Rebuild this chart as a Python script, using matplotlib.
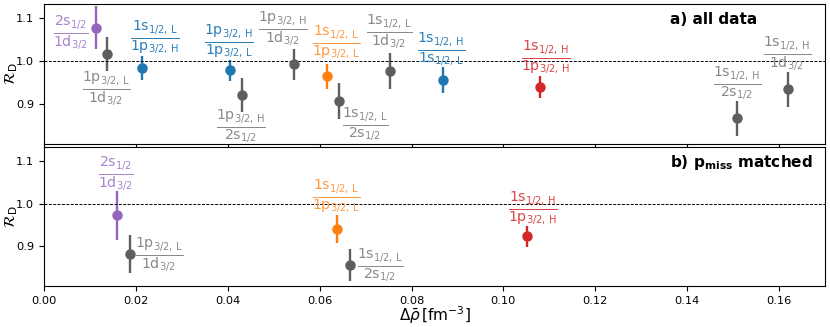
import matplotlib
matplotlib.use("Agg")
import matplotlib.pyplot as plt

plt.rcParams['mathtext.fontset'] = 'dejavusans'

# ratio labels (numerator, denominator)
ratios_a = [("2s_{1/2}", "1d_{3/2}"), ("1p_{3/2,L}", "1d_{3/2}"), ("1s_{1/2,L}", "1p_{3/2,H}"),
            ("1p_{3/2,H}", "1p_{3/2,L}"), ("1p_{3/2,H}", "2s_{1/2}"), ("1p_{3/2,H}", "1d_{3/2}"),
            ("1s_{1/2,L}", "1p_{3/2,L}"), ("1s_{1/2,L}", "2s_{1/2}"), ("1s_{1/2,L}", "1d_{3/2}"),
            ("1s_{1/2,H}", "1s_{1/2,L}"), ("1s_{1/2,H}", "1p_{3/2,H}"), ("1s_{1/2,H}", "2s_{1/2}"),
            ("1s_{1/2,H}", "1d_{3/2}")]
drho_a = [0.0113, 0.0138, 0.0213, 0.0405, 0.0431, 0.0544, 0.0617, 0.0643, 0.0754, 0.0869, 0.1079, 0.1509, 0.1620]
rd_a = [1.078, 1.016, 0.984, 0.978, 0.921, 0.992, 0.964, 0.907, 0.977, 0.956, 0.940, 0.867, 0.934]
err_a = [0.050, 0.040, 0.028, 0.025, 0.039, 0.037, 0.030, 0.042, 0.042, 0.030, 0.025, 0.041, 0.040]
kind_a = ['purple', 'gray', 'blue', 'blue', 'gray', 'gray', 'orange', 'gray', 'gray', 'blue', 'red', 'gray', 'gray']

ratios_b = [("2s_{1/2}", "1d_{3/2}"), ("1p_{3/2,L}", "1d_{3/2}"), ("1s_{1/2,L}", "1p_{3/2,L}"),
            ("1s_{1/2,L}", "2s_{1/2}"), ("1s_{1/2,H}", "1p_{3/2,H}")]
drho_b = [0.0159, 0.0187, 0.0638, 0.0666, 0.1052]
rd_b = [0.973, 0.882, 0.941, 0.856, 0.924]
err_b = [0.058, 0.044, 0.033, 0.037, 0.025]
kind_b = ['purple', 'gray', 'orange', 'gray', 'red']

# label anchor positions (data coords)
lab_a = [(0.0059, 1.064), (0.0135, 0.934), (0.0241, 1.054), (0.0402, 1.045), (0.0429, 0.847),
         (0.0520, 1.074), (0.0636, 1.043), (0.0699, 0.851), (0.0751, 1.067), (0.0865, 1.027),
         (0.1092, 1.008), (0.1508, 0.948), (0.1618, 1.016)]
lab_b = [(0.0156, 1.070), (0.0250, 0.880), (0.0636, 1.018), (0.0732, 0.856), (0.1064, 0.989)]

marker_col = {'purple': '#9467bd', 'gray': '#5e5e5e', 'blue': '#1f77b4',
              'orange': '#ff7f0e', 'red': '#d62728'}
text_col = {'purple': '#a884cc', 'gray': '#8a8a8a', 'blue': '#2a7fba',
            'orange': '#ff9a40', 'red': '#dc4445'}


def tex(s):
    # "1p_{3/2,L}" -> mathrm with a small space after the comma
    base, sub = s.split("_")
    sub = sub.strip("{}").replace(",", r",\,")
    return r"\mathrm{%s}_{\mathrm{%s}}" % (base, sub)


def draw(ax, xs, ys, es, kinds, ratios, labs, title):
    for x, y, e, k in zip(xs, ys, es, kinds):
        ax.errorbar(x, y, yerr=e, fmt='o', color=marker_col[k], ms=6.5, elinewidth=1.7, capsize=0)
    for (num, den), (lx, ly), k in zip(ratios, labs, kinds):
        ax.text(lx, ly, r"$\frac{%s}{%s}$" % (tex(num), tex(den)), ha='center', va='center',
                fontsize=14.5, color=text_col[k])
    ax.axhline(1.0, color='black', ls='--', lw=0.7, dashes=(3, 1.5))
    ax.set_xlim(0, 0.17)
    ax.set_ylim(0.807, 1.133)
    ax.set_yticks([0.9, 1.0, 1.1])
    ax.set_ylabel(r"$\mathcal{R}_\mathrm{D}$", fontsize=11)
    ax.yaxis.set_label_coords(-0.031, 0.5)
    ax.text(0.8015, 0.886, title, transform=ax.transAxes, ha='left', va='center',
            fontsize=11, fontweight='bold')
    ax.tick_params(labelsize=8.2)


fig = plt.figure(figsize=(8.3, 3.27), dpi=100)
ax1 = fig.add_axes([0.053, 0.560, 0.941, 0.428])
ax2 = fig.add_axes([0.053, 0.125, 0.941, 0.425])

draw(ax1, drho_a, rd_a, err_a, kind_a, ratios_a, lab_a, "a) all data")
draw(ax2, drho_b, rd_b, err_b, kind_b, ratios_b, lab_b, r"b) p$_\mathbf{miss}$ matched")
ax1.tick_params(labelbottom=False)
ax2.set_xlabel(r"$\Delta\bar{\rho}\,[\mathrm{fm}^{-3}]$", fontsize=11, labelpad=-1)

fig.savefig("out.png", dpi=100)
